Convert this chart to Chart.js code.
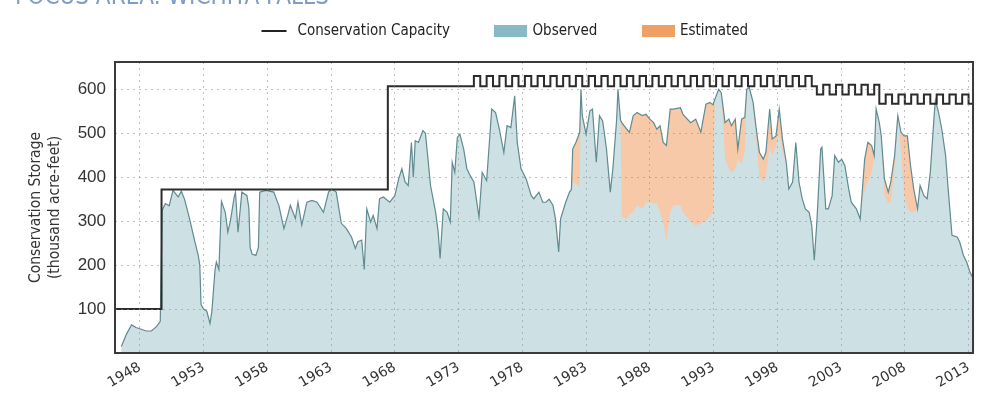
<!DOCTYPE html>
<html>
<head>
<meta charset="utf-8">
<script src="https://cdn.jsdelivr.net/npm/chart.js@4.4.0/dist/chart.umd.min.js"></script>
<style>
  html, body { margin: 0; padding: 0; background: #fff; overflow: hidden; }
  #wrap { position: relative; width: 983px; height: 414px; }
  #title {
    position: absolute; left: 15px; top: -17px;
    font: 24px 'DejaVu Sans Condensed', sans-serif;
    line-height: 26px; color: #7c9cc9; white-space: nowrap;
  }
</style>
</head>
<body>
<div id="wrap">
  <canvas id="storageChart" width="983" height="414"></canvas>
  <div id="title">FOCUS AREA: WICHITA FALLS</div>
</div>
<script>
// storage in thousand acre-feet
const years = [
  1946.55, 1946.95, 1947.35, 1947.7, 1948.1, 1948.5, 1948.9, 1949.3, 1949.6, 1949.75,
  1950.0, 1950.3, 1950.6, 1951.0, 1951.25, 1951.5, 1951.9, 1952.3, 1952.58, 1952.7, 1952.8, 1953.0, 1953.25, 1953.5, 1953.65, 1953.9,
  1954.0, 1954.2, 1954.4, 1954.7, 1954.9, 1955.1, 1955.4, 1955.5, 1955.7, 1956.0, 1956.4, 1956.55, 1956.65, 1956.8, 1957.1, 1957.3, 1957.4, 1957.9,
  1958.5, 1958.9, 1959.3, 1959.6, 1959.8, 1960.2, 1960.4, 1960.7, 1961.1, 1961.5, 1961.9, 1962.4, 1962.8, 1963.05, 1963.4, 1963.8,
  1964.2, 1964.6, 1964.9, 1965.1, 1965.4, 1965.6, 1965.8, 1966.1, 1966.3, 1966.6, 1966.8, 1967.1, 1967.6, 1968.0, 1968.3, 1968.55, 1968.8,
  1969.05, 1969.3, 1969.45, 1969.6, 1969.85, 1970.2, 1970.4, 1970.8, 1971.2, 1971.4, 1971.55, 1971.8, 1972.1, 1972.35, 1972.5, 1972.7, 1972.9, 1973.1, 1973.4, 1973.65, 1973.9,
  1974.2, 1974.6, 1974.85, 1975.2, 1975.6, 1975.9, 1976.2, 1976.55, 1976.8, 1977.1, 1977.4, 1977.6, 1977.9, 1978.3, 1978.7, 1978.9,
  1979.3, 1979.6, 1979.85, 1980.1, 1980.4, 1980.6, 1980.85, 1981.0, 1981.4, 1981.7, 1981.85, 1981.95, 1982.2, 1982.5, 1982.6, 1982.7,
  1983.0, 1983.3, 1983.5, 1983.8, 1984.05, 1984.3, 1984.6, 1984.9, 1985.1, 1985.4, 1985.5, 1985.7, 1985.8,
  1986.2, 1986.4, 1986.7, 1987.0, 1987.4, 1987.7, 1988.0, 1988.3, 1988.55, 1988.8, 1989.05, 1989.3, 1989.6, 1989.85,
  1990.4, 1990.6, 1991.2, 1991.6, 1992.0, 1992.4, 1992.7, 1992.95,
  1993.1, 1993.4, 1993.6, 1993.9, 1994.2, 1994.4, 1994.7, 1994.9, 1995.2, 1995.45, 1995.6, 1995.8,
  1996.1, 1996.35, 1996.6, 1996.9, 1997.1, 1997.4, 1997.6, 1997.9, 1998.15, 1998.4, 1998.7, 1998.9, 1999.2, 1999.45, 1999.7, 1999.95,
  2000.2, 2000.5, 2000.7, 2000.9, 2001.1, 2001.4, 2001.5, 2001.8, 2002.0, 2002.3, 2002.5, 2002.8, 2003.05, 2003.3, 2003.6, 2003.8,
  2004.2, 2004.5, 2004.6, 2004.85, 2005.1, 2005.4, 2005.6, 2005.75, 2006.0, 2006.15, 2006.4, 2006.7, 2006.9, 2007.2, 2007.45, 2007.7, 2007.95,
  2008.2, 2008.45, 2008.7, 2009.0, 2009.2, 2009.5, 2009.75, 2010.0, 2010.3, 2010.4, 2010.65, 2010.9, 2011.2, 2011.4, 2011.7, 2012.1, 2012.3, 2012.6, 2012.85, 2013.1, 2013.35
];

// total storage incl. estimated (top line)
const storage = [
  15, 43, 64, 58, 54, 50, 50, 60, 72, 325,
  340, 335, 370, 355, 368, 350, 305, 255, 222, 200, 110, 100, 95, 67, 95, 190,
  207, 190, 345, 320, 275, 300, 355, 366, 275, 366, 358, 330, 240, 225, 222, 240, 366, 370,
  366, 336, 283, 313, 336, 306, 343, 291, 343, 347, 343, 320, 366, 373, 366, 295,
  283, 264, 238, 253, 257, 190, 328, 298, 313, 283, 351, 355, 343, 358, 396, 419, 389,
  381, 479, 400, 483, 479, 506, 500, 381, 320, 275, 215, 328, 320, 298, 434, 411, 490, 498, 464, 419, 404,
  389, 309, 411, 392, 555, 547, 509, 456, 517, 513, 585, 479, 419, 396, 358, 351,
  366, 343, 343, 350, 336, 305, 230, 305, 343, 366, 372, 464, 479, 502, 600, 540,
  498, 551, 555, 434, 540, 528, 464, 366, 419, 532, 600, 530, 524,
  509, 502, 540, 547, 540, 543, 532, 524, 509, 517, 479, 472, 555, 555,
  558, 543, 524, 532, 502, 566, 570, 565,
  577, 600, 592, 524, 532, 517, 532, 464, 532, 536, 600, 604,
  570, 509, 456, 441, 456, 555, 487, 494, 555, 487, 434, 373, 389, 479, 389, 351,
  328, 320, 290, 211, 298, 464, 468, 328, 328, 358, 449, 434, 441, 426, 373, 343,
  328, 305, 343, 441, 479, 472, 449, 555, 524, 494, 396, 366, 389, 449, 540, 502, 494,
  494, 426, 373, 328, 381, 358, 351, 411, 540, 575, 547, 509, 449, 373, 268, 264, 253, 222, 207, 185, 170
];

// observed storage only
const observed = [
  15, 43, 64, 58, 54, 50, 50, 60, 72, 325,
  340, 335, 370, 355, 368, 350, 305, 255, 222, 200, 110, 100, 95, 67, 95, 190,
  207, 190, 345, 320, 275, 300, 355, 366, 275, 366, 358, 330, 240, 225, 222, 240, 366, 370,
  366, 336, 283, 313, 336, 306, 343, 291, 343, 347, 343, 320, 366, 373, 366, 295,
  283, 264, 238, 253, 257, 190, 328, 298, 313, 283, 351, 355, 343, 358, 396, 419, 389,
  381, 479, 400, 483, 479, 506, 500, 381, 320, 275, 215, 328, 320, 298, 434, 411, 490, 498, 464, 419, 404,
  389, 309, 411, 392, 555, 547, 509, 456, 517, 513, 585, 479, 419, 396, 358, 351,
  366, 343, 343, 350, 336, 305, 230, 305, 343, 366, 372, 390, 385, 380, 600, 540,
  498, 551, 555, 434, 540, 528, 464, 366, 419, 532, 600, 530, 310,
  305, 315, 320, 336, 328, 343, 343, 340, 340, 320, 298, 256, 320, 336,
  336, 320, 300, 290, 295, 300, 310, 320,
  577, 600, 592, 440, 420, 410, 420, 440, 430, 460, 600, 604,
  570, 480, 400, 390, 400, 470, 450, 470, 500, 460, 434, 373, 389, 479, 389, 351,
  328, 320, 290, 211, 298, 464, 468, 328, 328, 358, 449, 434, 441, 426, 373, 343,
  328, 305, 343, 370, 390, 410, 449, 555, 524, 494, 360, 340, 345, 420, 540, 460, 360,
  330, 320, 320, 328, 381, 358, 351, 411, 540, 575, 547, 509, 449, 373, 268, 264, 253, 222, 207, 185, 170
];

// conservation capacity: each value holds from its year to the next one
const capacityYears = [
  1946.0, 1949.7, 1967.45,
  1974.2, 1974.7, 1975.2, 1975.7, 1976.2, 1976.7, 1977.2, 1977.7, 1978.2, 1978.7, 1979.2, 1979.7,
  1980.2, 1980.7, 1981.2, 1981.7, 1982.2, 1982.7, 1983.2, 1983.7, 1984.2, 1984.7, 1985.2, 1985.7,
  1986.2, 1986.7, 1987.2, 1987.7, 1988.2, 1988.7, 1989.2, 1989.7, 1990.2, 1990.7, 1991.2, 1991.7,
  1992.2, 1992.7, 1993.2, 1993.7, 1994.2, 1994.7, 1995.2, 1995.7, 1996.2, 1996.7, 1997.2, 1997.7,
  1998.2, 1998.7, 1999.2, 1999.7, 2000.2, 2000.7,
  2001.1, 2001.6, 2002.1, 2002.6, 2003.1, 2003.6, 2004.1, 2004.6, 2005.1, 2005.6,
  2006.0, 2006.5, 2007.0, 2007.5, 2008.0, 2008.5, 2009.0, 2009.5, 2010.0, 2010.5, 2011.0, 2011.5,
  2012.0, 2012.5, 2013.0, 2013.35
];
const capacityValues = [
  100, 372, 607,
  630, 607, 630, 607, 630, 607, 630, 607, 630, 607, 630, 607,
  630, 607, 630, 607, 630, 607, 630, 607, 630, 607, 630, 607,
  630, 607, 630, 607, 630, 607, 630, 607, 630, 607, 630, 607,
  630, 607, 630, 607, 630, 607, 630, 607, 630, 607, 630, 607,
  630, 607, 630, 607, 630, 607,
  588, 610, 588, 610, 588, 610, 588, 610, 588, 610,
  567, 588, 567, 588, 567, 588, 567, 588, 567, 588, 567, 588,
  567, 588, 567, 567
];

const xTicks = [1948, 1953, 1958, 1963, 1968, 1973, 1978, 1983, 1988, 1993, 1998, 2003, 2008, 2013];
const yTicks = [100, 200, 300, 400, 500, 600];

const condensed = "'DejaVu Sans Condensed', sans-serif";
const gridColor = 'rgba(150, 140, 140, 0.55)';

const swatch = (color, isLine) => {
  const c = document.createElement('canvas');
  c.width = 33;
  c.height = 12;
  const g = c.getContext('2d');
  if (isLine) {
    g.strokeStyle = color;
    g.lineWidth = 2;
    g.beginPath();
    g.moveTo(2, 6);
    g.lineTo(27, 6);
    g.stroke();
  } else {
    g.fillStyle = color;
    g.fillRect(0, 0, 33, 12);
  }
  return c;
};

const legendEntries = [
  { text: 'Conservation Capacity', style: swatch('#222', true) },
  { text: 'Observed', style: swatch('#8ab9c6', false) },
  { text: 'Estimated', style: swatch('#f0a064', false) },
];

// puts the legend where the original figure has it
const legendPlacement = {
  id: 'legendPlacement',
  beforeInit(chart) {
    const fit = chart.legend.fit;
    chart.legend.fit = function () {
      fit.call(this);
      this.height = 62;
    };
  },
  afterLayout(chart) {
    const lg = chart.legend;
    const pad = lg.options.labels.padding;
    const size = lg.options.labels.font.size;
    const start = (lg.left + pad + lg.right - lg.lineWidths[0]) / 2;
    const d = 262 - start;
    lg.left += d;
    lg.right += d;
    lg.top = 31 - pad - size / 2;
  }
};

const frame = {
  id: 'frame',
  afterDraw(chart) {
    const { ctx, chartArea: a } = chart;
    ctx.save();
    ctx.strokeStyle = '#3a3a3a';
    ctx.lineWidth = 2;
    ctx.strokeRect(a.left, a.top, a.right - a.left, a.bottom - a.top);
    ctx.restore();
  }
};

new Chart(document.getElementById('storageChart'), {
  type: 'line',
  data: {
    datasets: [
      {
        label: 'Conservation Capacity',
        data: capacityYears.map((x, i) => ({ x, y: capacityValues[i] })),
        stepped: 'before',
        borderColor: '#2b2b2b',
        borderWidth: 2,
        pointRadius: 0,
        fill: false,
        order: 0,
      },
      {
        label: 'Observed',
        data: years.map((x, i) => ({ x, y: observed[i] })),
        borderColor: 'rgba(0,0,0,0)',
        borderWidth: 0,
        backgroundColor: '#cde0e4',
        fill: 'origin',
        pointRadius: 0,
        order: 1,
      },
      {
        label: 'Estimated',
        data: years.map((x, i) => ({ x, y: storage[i] })),
        borderColor: '#5f8b91',
        borderWidth: 1.2,
        backgroundColor: '#f7c9a8',
        fill: 'origin',
        pointRadius: 0,
        order: 2,
      },
    ],
  },
  options: {
    responsive: false,
    animation: false,
    layout: { padding: { left: 0, right: 8, top: 0, bottom: 0 } },
    plugins: {
      filler: { drawTime: 'beforeDatasetsDraw' },
      tooltip: { enabled: false },
      legend: {
        position: 'top',
        labels: {
          usePointStyle: true,
          pointStyleWidth: 28,
          boxHeight: 12,
          padding: 47,
          font: { family: condensed, size: 15 },
          generateLabels: () => legendEntries.map((e, i) => ({
            text: e.text,
            pointStyle: e.style,
            fillStyle: 'transparent',
            strokeStyle: 'transparent',
            lineWidth: 0,
            hidden: false,
            datasetIndex: i,
            fontColor: '#222',
          })),
        },
      },
    },
    scales: {
      x: {
        type: 'linear',
        min: 1946.05,
        max: 2013.35,
        afterFit: (scale) => { scale.height = 61; },
        afterBuildTicks: (scale) => { scale.ticks = xTicks.map((v) => ({ value: v })); },
        grid: { color: gridColor, drawTicks: false, z: 1 },
        border: { display: false, dash: [2, 4] },
        ticks: {
          autoSkip: false,
          minRotation: 30,
          maxRotation: 30,
          padding: 6,
          color: '#333',
          font: { family: "'DejaVu Sans', sans-serif", size: 14 },
          callback: (v) => String(v),
        },
      },
      y: {
        min: 0,
        max: 662,
        afterFit: (scale) => { scale.width = 115; },
        afterBuildTicks: (scale) => { scale.ticks = yTicks.map((v) => ({ value: v })); },
        grid: { color: gridColor, drawTicks: false, z: 1 },
        border: { display: false, dash: [2, 4] },
        ticks: {
          padding: 9,
          color: '#333',
          font: { family: "'Liberation Sans', Arial, sans-serif", size: 17 },
        },
        title: {
          display: true,
          text: ['Conservation Storage', '(thousand acre-feet)'],
          color: '#333',
          font: { family: condensed, size: 15.5, lineHeight: 1.23 },
          padding: { top: 26.5, bottom: 0 },
        },
      },
    },
  },
  plugins: [legendPlacement, frame],
});
</script>
</body>
</html>
